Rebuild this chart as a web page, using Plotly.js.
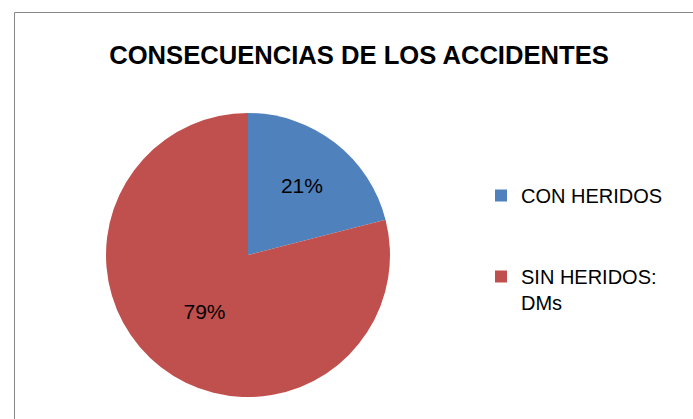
<!DOCTYPE html>
<html>
<head>
<meta charset="utf-8">
<script src="https://cdn.plot.ly/plotly-3.0.1.min.js"></script>
<style>html,body{margin:0;padding:0;background:#fff;}#chart{width:693px;height:419px;}</style>
</head>
<body>
<div id="chart"></div>
<script>
const titleText = "CONSECUENCIAS DE LOS ACCIDENTES";
const categories = ["CON HERIDOS<br> <br> ", "SIN HERIDOS:<br>DMs"];
const values = [21, 79];
const colors = ["#4F81BD", "#C0504D"];

const W = 693, H = 419;
const data = [{
  type: "pie",
  labels: categories,
  values: values,
  marker: {colors: colors, line: {width: 0}},
  sort: false,
  direction: "clockwise",
  rotation: 0,
  textinfo: "percent",
  texttemplate: "%{percent:.0%}",
  textposition: "inside",
  insidetextorientation: "horizontal",
  textfont: {family: "Liberation Sans, Arial, sans-serif", size: 21, color: "#000"},
  hoverinfo: "label+percent",
  domain: {x: [106/W, 390/W], y: [1 - 397/H, 1 - 113/H]}
}];
const layout = {
  width: W, height: H,
  margin: {l: 0, r: 0, t: 0, b: 0},
  paper_bgcolor: "#fff",
  title: {
    text: "<b>" + titleText + "</b>",
    font: {family: "Liberation Sans, Arial, sans-serif", size: 25.6, color: "#000"},
    x: 359/W, xanchor: "center", y: 1 - 55/H, yanchor: "middle"
  },
  showlegend: true,
  legend: {
    x: 481/W, xanchor: "left", y: 1 - 176/H, yanchor: "top",
    font: {family: "Liberation Sans, Arial, sans-serif", size: 20, color: "#000"},
    valign: "top",
    bgcolor: "rgba(0,0,0,0)"
  },
  shapes: [{
    type: "rect", xref: "paper", yref: "paper",
    x0: 14.5/W, x1: 1.1, y0: -0.1, y1: 1 - 12.5/H,
    line: {color: "#888888", width: 1}, fillcolor: "rgba(0,0,0,0)", layer: "below"
  }]
};
Plotly.newPlot("chart", data, layout, {displayModeBar: false, staticPlot: true});
</script>
</body>
</html>
